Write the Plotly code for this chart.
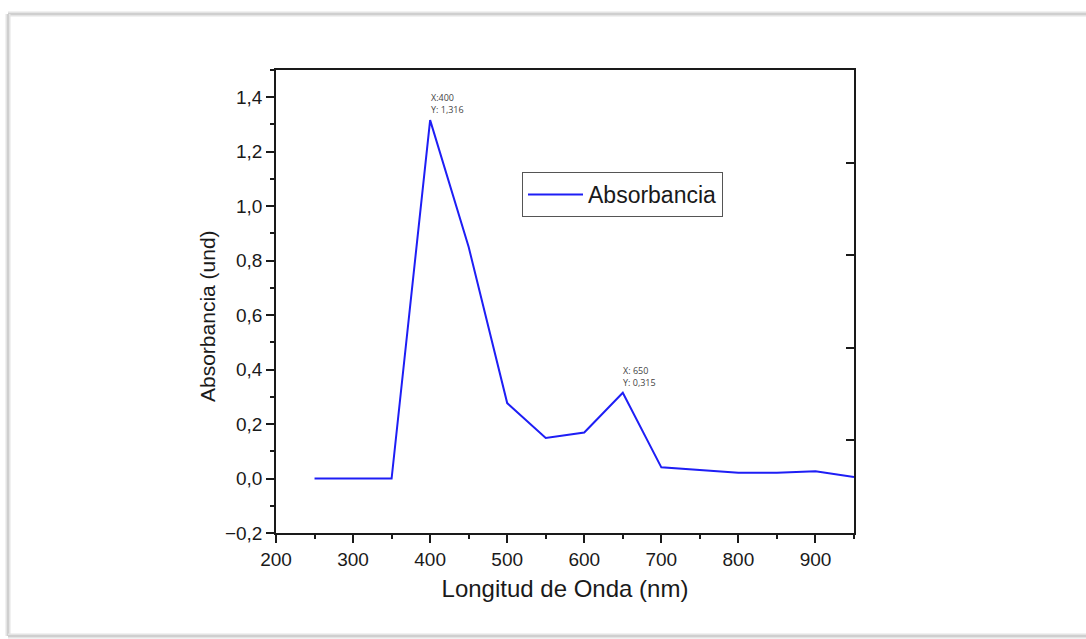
import plotly.graph_objects as go

wavelength = [250, 300, 350, 400, 450, 500, 550, 600, 650, 700, 750, 800, 850, 900, 950]
absorbance = [0.0, 0.0, 0.0, 1.316, 0.85, 0.277, 0.149, 0.169, 0.315, 0.041, 0.031, 0.021, 0.021, 0.027, 0.006]

peak_x = [400, 650]
peak_y = [1.316, 0.315]
peak_labels = ["X:400<br>Y: 1,316", "X: 650<br>Y: 0,315"]

x_tickvals = [200, 300, 400, 500, 600, 700, 800, 900]
y_tickvals = [-0.2, 0.0, 0.2, 0.4, 0.6, 0.8, 1.0, 1.2, 1.4]

W, H = 1086, 639
L, R, T, B = 276, 232, 70, 106
pw, ph = W - L - R, H - T - B

def px(xp):
    return (xp - L) / pw

def py(yp):
    return (H - B - yp) / ph

FONT = "Liberation Sans, Arial, sans-serif"
AX = "#1a1a1a"

fig = go.Figure()
fig.add_trace(go.Scatter(
    x=wavelength, y=absorbance, mode="lines", name="Absorbancia",
    line=dict(color="rgb(30,30,245)", width=2),
))
# helper trace so the right-hand axis is drawn
fig.add_trace(go.Scatter(
    x=[wavelength[0]], y=[0], yaxis="y2", mode="lines", showlegend=False,
    hoverinfo="skip", line=dict(color="rgba(0,0,0,0)"),
))

for xv, yv, txt in zip(peak_x, peak_y, peak_labels):
    fig.add_annotation(
        x=xv - 2, y=yv + 0.006, xref="x", yref="y", text=txt, showarrow=False,
        xanchor="left", yanchor="bottom", align="left",
        font=dict(family="Open Sans, Noto Sans, sans-serif", size=9, color="#444444"),
    )

# y-axis title placed as rotated text
fig.add_annotation(
    x=px(207), y=py(316), xref="paper", yref="paper", text="Absorbancia (und)",
    showarrow=False, textangle=-90, xanchor="center", yanchor="middle",
    font=dict(family=FONT, size=21, color="#1a1a1a"),
)

# card frame (top, left, bottom edges; right edge lies outside the picture)
frame_edges = [
    (8, 14, 1086, 14),
    (8, 14, 8, 636),
    (8, 636, 1086, 636),
]
for x0, y0, x1, y1 in frame_edges:
    for col, wd in (("#e4e4e4", 5), ("#c9c9c9", 1.5)):
        fig.add_shape(type="line", xref="paper", yref="paper",
                      x0=px(x0), x1=px(x1), y0=py(y0), y1=py(y1),
                      line=dict(color=col, width=wd), layer="below")

fig.update_layout(
    width=W, height=H,
    margin=dict(l=L, r=R, t=T, b=B),
    paper_bgcolor="white", plot_bgcolor="white",
    separators=",.",
    font=dict(family=FONT, color="#1a1a1a"),
    showlegend=True,
    legend=dict(
        x=px(522), y=py(172), xanchor="left", yanchor="top",
        bgcolor="white", bordercolor="#555555", borderwidth=1,
        font=dict(family=FONT, size=23, color="#1a1a1a"),
        itemwidth=55, tracegroupgap=0,
    ),
    xaxis=dict(
        range=[200, 950], tickvals=x_tickvals,
        ticks="outside", ticklen=8, tickwidth=1.5, tickcolor=AX,
        minor=dict(dtick=50, ticks="outside", ticklen=4, tickwidth=1.5, tickcolor=AX, showgrid=False),
        showline=True, linecolor=AX, linewidth=1.5, mirror=True,
        showgrid=False, zeroline=False,
        tickfont=dict(family=FONT, size=19, color="#1a1a1a"),
        title=dict(text="Longitud de Onda (nm)", font=dict(family=FONT, size=24, color="#1a1a1a"), standoff=12),
    ),
    yaxis=dict(
        range=[-0.2, 1.5], tickvals=y_tickvals, tickformat=".1f",
        ticks="outside", ticklen=8, tickwidth=1.5, tickcolor=AX,
        minor=dict(dtick=0.1, tick0=0, ticks="outside", ticklen=4, tickwidth=1.5, tickcolor=AX, showgrid=False),
        showline=True, linecolor=AX, linewidth=1.5, mirror=False,
        showgrid=False, zeroline=False,
        tickfont=dict(family=FONT, size=19, color="#1a1a1a"),
    ),
    yaxis2=dict(
        overlaying="y", side="right", range=[0, 5], tickvals=[1, 2, 3, 4],
        ticks="inside", ticklen=8, tickwidth=1.5, tickcolor=AX,
        showticklabels=False, showline=True, linecolor=AX, linewidth=1.5,
        showgrid=False, zeroline=False,
    ),
)

fig.write_html("out.html")
